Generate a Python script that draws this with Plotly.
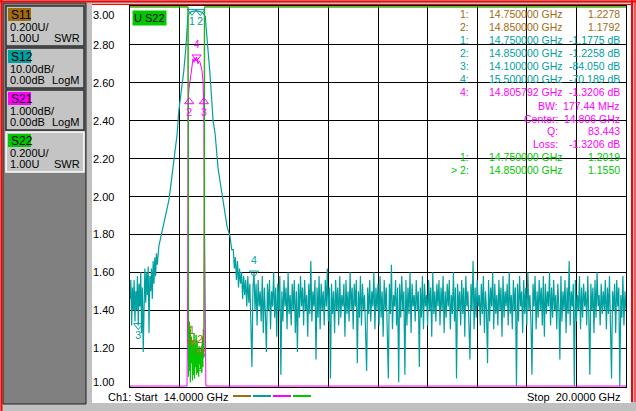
import numpy as np
import plotly.graph_objects as go

# ---- sweep / scale ----
START_GHZ = 14.0
STOP_GHZ = 20.0
X_GRID = [14.0, 14.6, 15.2, 15.8, 16.4, 17.0, 17.6, 18.2, 18.8, 19.4, 20.0]
Y_TICK_VALS = [3.0, 2.8, 2.6, 2.4, 2.2, 2.0, 1.8, 1.6, 1.4, 1.2, 1.0]
Y_TICK_TEXT = ["3.00", "2.80", "2.60", "2.40", "2.20", "2.00", "1.80", "1.60", "1.40", "1.20", "1.00"]

# ---- S12 (LogM, 10 dB/div, ref 0 dB at top) ----
S12_LEFT_START, S12_LEFT_STOP = 14.00, 14.34
S12_LEFT_DB = [-77, -72, -84, -74, -80, -72, -83, -75, -80, -71,
               -84.05, -73, -79, -70, -86, -74, -91, -72, -69, -78,
               -70, -76, -68.5, -86, -71, -75, -69, -77, -67, -73,
               -66, -71, -65, -68, -64]
S12_PASS_F = [14.35, 14.37, 14.40, 14.43, 14.47, 14.50, 14.52, 14.55, 14.57, 14.59,
              14.62, 14.65, 14.675, 14.69, 14.70, 14.72, 14.75, 14.78, 14.80, 14.82,
              14.85, 14.88, 14.91, 14.925, 14.94, 14.965, 14.99, 15.005, 15.03, 15.065,
              15.10, 15.125, 15.15, 15.175, 15.21, 15.23]
S12_PASS_DB = [-63, -61, -58, -55, -51, -46, -42.5, -38, -33.5, -27.5,
               -22.5, -17, -11, -6, -2.5, -1.5, -1.1775, -1.1, -1.0, -1.1,
               -1.2258, -1.5, -2.5, -6, -11, -17, -25, -30, -33.5, -42.5,
               -47.5, -51, -55, -58, -60.5, -64]
S12_RIGHT_START, S12_RIGHT_STOP = 15.25, 20.00
S12_RIGHT_DB = [
    -64, -69, -66, -72, -67, -74, -69, -73, -70, -77, -71, -76, -72, -79, -71, -78, -73, -82, -95, -74,
    -70.19, -80, -73, -84, -72, -79, -75, -83, -71, -86, -74, -81, -91, -73, -80, -72, -85, -75, -79, -70,
    -82, -74, -87, -73, -80, -71, -97, -75, -83, -72, -79, -74, -85, -70, -81, -76, -84, -73, -80, -72,
    -86, -75, -91, -73, -82, -71, -79, -74, -84, -72, -80, -76, -87, -73, -81, -67, -83, -75, -79, -72,
    -93, -74, -82, -71, -85, -73, -80, -75, -84, -72, -79, -69, -83, -74, -98, -73, -81, -75, -86, -72,
    -80, -74, -84, -71, -82, -76, -79, -73, -87, -72, -81, -75, -83, -70, -80, -74, -85, -73, -79, -72,
    -94, -75, -82, -71, -84, -73, -80, -76, -86, -96, -74, -81, -72, -83, -75, -79, -70, -85, -74, -80,
    -73, -84, -71, -82, -75, -87, -72, -80, -74, -83, -98, -73, -81, -68, -85, -76, -79, -72, -84, -74,
    -99, -73, -82, -71, -80, -75, -97, -72, -84, -74, -81, -70, -86, -73, -79, -76, -83, -72, -80, -75,
    -95, -74, -82, -71, -85, -73, -79, -76, -84, -72, -80, -74, -87, -70, -81, -75, -83, -73, -79, -72,
    -84, -74, -80, -71, -86, -75, -82, -73, -79, -72, -85, -76, -81, -70, -83, -74, -98, -73, -80, -75,
    -84, -72, -81, -74, -87, -71, -79, -75, -83, -93, -73, -80, -67, -85, -74, -82, -72, -79, -76, -84,
    -73, -81, -71, -86, -75, -80, -94, -72, -83, -74, -79, -70, -85, -73, -81, -76, -84, -72, -80, -74,
    -87, -71, -82, -75, -79, -73, -84, -70, -81, -76, -85, -72, -80, -74, -100, -73, -83, -71, -79, -75,
    -86, -72, -81, -74, -84, -70, -80, -76, -83, -97, -73, -79, -71, -85, -75, -82, -72, -80, -74, -84,
    -71, -87, -73, -81, -75, -79, -70, -84, -74, -82, -72, -80, -76, -85, -73, -79, -93, -71, -83, -75,
    -80, -72, -86, -74, -81, -67, -84, -75, -79, -73, -100, -72, -83, -76, -80, -71, -85, -74, -82, -73,
    -79, -75, -84, -71, -81, -97, -73, -80, -74, -86, -72, -82, -70, -79, -76, -84, -73, -81, -75, -80,
    -72, -85, -74, -81, -71, -83, -98, -75, -80, -73, -86, -72, -79, -74, -100, -76, -82, -71, -84, -75,
    -80]

# ---- S21 (LogM, 1 dB/div, ref 0 dB at top) ----
S21_F = [14.00, 14.30, 14.60, 14.690, 14.697, 14.702, 14.706, 14.714, 14.726, 14.738,
         14.750, 14.762, 14.774, 14.787, 14.798, 14.806, 14.811, 14.823, 14.835, 14.847,
         14.859, 14.871, 14.883, 14.889, 14.895, 14.903, 14.912, 14.918, 15.20, 17.00, 20.00]
S21_DB = [-84, -66, -32, -14, -8.0, -4.0, -2.4, -2.16, -1.95, -1.68,
          -1.42, -1.37, -1.46, -1.34, -1.42, -1.3206, -1.37, -1.50, -1.42, -1.46,
          -1.58, -1.68, -1.95, -2.34, -2.74, -6.0, -9.0, -14, -55, -76, -74]

# ---- S11 / S22 (SWR, 0.2 U/div, ref 1.00 U at bottom) ----
S11_F = [14.00, 14.701, 14.706, 14.712, 14.718, 14.724, 14.731, 14.737, 14.743, 14.750,
         14.756, 14.762, 14.768, 14.775, 14.781, 14.787, 14.793, 14.800, 14.806, 14.812,
         14.818, 14.825, 14.831, 14.837, 14.843, 14.850, 14.856, 14.862, 14.868, 14.875,
         14.881, 14.887, 14.893, 14.899, 20.00]
S11_SWR = [17.4, 3.6, 1.32, 1.15, 1.34, 1.12, 1.30, 1.16, 1.26, 1.2278,
           1.10, 1.24, 1.13, 1.20, 1.08, 1.18, 1.12, 1.22, 1.09, 1.17,
           1.07, 1.15, 1.10, 1.19, 1.13, 1.1792, 1.09, 1.21, 1.12, 1.26,
           1.15, 1.30, 1.20, 3.6, 16.8]
S22_F = [14.00, 14.703, 14.708, 14.713, 14.718, 14.724, 14.730, 14.736, 14.742, 14.750,
         14.756, 14.762, 14.768, 14.775, 14.781, 14.787, 14.793, 14.800, 14.806, 14.812,
         14.818, 14.825, 14.831, 14.837, 14.843, 14.850, 14.856, 14.862, 14.868, 14.875,
         14.881, 14.887, 14.893, 14.898, 14.903, 20.00]
S22_SWR = [18.2, 3.6, 1.05, 1.30, 1.08, 1.32, 1.02, 1.25, 1.12, 1.2019,
           1.03, 1.20, 1.06, 1.28, 1.04, 1.22, 1.10, 1.27, 1.06, 1.24,
           1.08, 1.18, 1.05, 1.21, 1.12, 1.1550, 1.09, 1.19, 1.07, 1.22,
           1.10, 1.26, 1.15, 1.30, 3.6, 17.9]

# ---- markers ----
S11_MK_F, S11_MK_VAL, S11_MK_LBL = [14.75, 14.85], [1.2278, 1.1792], ["1", "2"]
S12_MK_F = [14.75, 14.85, 14.10, 15.50]
S12_MK_DB = [-1.1775, -1.2258, -84.050, -70.189]
S12_MK_LBL = ["1", "2", "3", "4"]
S21_MK_F, S21_MK_DB, S21_MK_LBL = [14.717, 14.894, 14.805792], [-2.5, -2.5, -1.3206], ["2", "3", "4"]
S22_MK_F, S22_MK_VAL, S22_MK_LBL = [14.75, 14.85], [1.2019, 1.1550], ["1", "2"]

TABLE_IDX = ["1:", "2:", "1:", "2:", "3:", "4:", "4:", "", "", "", "", "1:", "> 2:"]
TABLE_KEY = ["14.750000 GHz", "14.850000 GHz", "14.750000 GHz", "14.850000 GHz",
             "14.100000 GHz", "15.500000 GHz", "14.805792 GHz", "BW:", "Center:", "Q:",
             "Loss:", "14.750000 GHz", "14.850000 GHz"]
TABLE_VAL = ["1.2278", "1.1792", "-1.1775 dB", "-1.2258 dB", "-84.050 dB", "-70.189 dB",
             "-1.3206 dB", "177.44 MHz", "14.806 GHz", "83.443", "-1.3206 dB", "1.2019", "1.1550"]
TABLE_TRACE = [0, 0, 1, 1, 1, 1, 2, 2, 2, 2, 2, 3, 3]

CHANNELS = ["S11", "S12", "S21", "S22"]
SCALES = ["0.200U/", "10.00dB/", "1.000dB/", "0.200U/"]
REFS = ["1.00U", "0.00dB", "0.00dB", "1.00U"]
FORMATS = ["SWR", "LogM", "LogM", "SWR"]
COLORS = ["#a06c10", "#00a0a0", "#ff00ff", "#00c800"]

FONT = "Liberation Sans"
FS = 10.5
GRID = "#000000"

# plot area in pixels
L, R, T, B = 130, 626, 6, 387


def px(x):
    return (x - L) / (R - L)


def py(y):
    return (B - y) / (B - T)


def logm(db, per_div):
    return np.clip(3.0 + np.asarray(db, dtype=float) / per_div * 0.2, 1.0, 3.0)


def swr(v):
    return np.clip(np.asarray(v, dtype=float), 1.0, 3.0)


s12_f = np.concatenate([np.linspace(S12_LEFT_START, S12_LEFT_STOP, len(S12_LEFT_DB)),
                        S12_PASS_F,
                        np.linspace(S12_RIGHT_START, S12_RIGHT_STOP, len(S12_RIGHT_DB))])
s12_db = np.concatenate([S12_LEFT_DB, S12_PASS_DB, S12_RIGHT_DB])

fig = go.Figure()
fig.add_trace(go.Scatter(x=S11_F, y=swr(S11_SWR), mode="lines", line=dict(color=COLORS[0], width=1)))
fig.add_trace(go.Scatter(x=s12_f, y=logm(s12_db, 10), mode="lines", line=dict(color=COLORS[1], width=1.2)))
fig.add_trace(go.Scatter(x=S21_F, y=logm(S21_DB, 1), mode="lines", line=dict(color=COLORS[2], width=1)))
fig.add_trace(go.Scatter(x=S22_F, y=swr(S22_SWR), mode="lines", line=dict(color=COLORS[3], width=1)))


def add_markers(f, vals, labels, color, symbols, positions):
    fig.add_trace(go.Scatter(
        x=f, y=vals, mode="markers+text", text=labels, textposition=positions,
        textfont=dict(family=FONT, size=FS, color=color), cliponaxis=False,
        marker=dict(symbol=symbols, size=8, color=color, line=dict(color=color, width=1))))


add_markers(S11_MK_F, swr(S11_MK_VAL), S11_MK_LBL, COLORS[0], "triangle-down-open", "top center")
add_markers(S12_MK_F, logm(S12_MK_DB, 10), S12_MK_LBL, COLORS[1], "triangle-down-open",
            ["bottom center", "bottom center", "bottom center", "top center"])
add_markers(S21_MK_F, logm(S21_MK_DB, 1), S21_MK_LBL, COLORS[2],
            ["triangle-up-open", "triangle-up-open", "triangle-down-open"],
            ["bottom center", "bottom center", "top center"])
add_markers(S22_MK_F, swr(S22_MK_VAL), S22_MK_LBL, COLORS[3], "triangle-down-open", "bottom center")

shapes = []
annotations = []


def text(x, y, s, anchor="left", color="black", size=FS, **kw):
    annotations.append(dict(xref="paper", yref="paper", x=px(x), y=py(y), text=s,
                            xanchor=anchor, yanchor="middle", showarrow=False,
                            font=dict(family=FONT, size=size, color=color), **kw))


# window background pieces
shapes.append(dict(type="rect", xref="paper", yref="paper", layer="below",
                   x0=px(92), x1=px(631), y0=py(403), y1=py(5), fillcolor="white", line_width=0))
shapes.append(dict(type="rect", xref="paper", yref="paper", layer="below",
                   x0=px(3), x1=px(86), y0=py(404), y1=py(3), fillcolor="#808080",
                   line=dict(color="#202020", width=1)))
# red frame
for x0, y0, x1, y1, w in [(1.5, 0, 1.5, 411, 2), (0, 1.5, 636, 1.5, 2), (632, 0, 632, 402, 2),
                          (635, 0, 635, 402, 1), (92, 4.5, 632, 4.5, 1)]:
    shapes.append(dict(type="line", xref="paper", yref="paper", x0=px(x0), x1=px(x1),
                       y0=py(y0), y1=py(y1), line=dict(color="#ff0000", width=w)))

# channel buttons
for i, ch in enumerate(CHANNELS):
    top = 6 + 42 * i
    active = i == 3
    shapes.append(dict(type="rect", xref="paper", yref="paper", layer="below",
                       x0=px(6), x1=px(84), y0=py(top + 40), y1=py(top),
                       fillcolor="#c4c4c4",
                       line=dict(color="white" if active else "#303030", width=1.5)))
    shapes.append(dict(type="rect", xref="paper", yref="paper", layer="below",
                       x0=px(8), x1=px(31), y0=py(top + 15), y1=py(top + 2),
                       fillcolor=COLORS[i], line_width=0))
    text(9, top + 9, ch, size=12)
    text(8, top + 21, SCALES[i], size=11)
    text(8, top + 32, REFS[i], size=11)
    text(82, top + 32, FORMATS[i], anchor="right", size=11)

# y labels
for v, t in zip(Y_TICK_VALS, Y_TICK_TEXT):
    shift = -8 if v == 3.0 else (4 if v == 1.0 else 0)
    annotations.append(dict(xref="paper", yref="y", x=px(116), y=v, yshift=shift, text=t,
                            xanchor="right", yanchor="middle", showarrow=False,
                            font=dict(family=FONT, size=11, color="black")))

# active trace label
annotations.append(dict(xref="paper", yref="paper", x=px(132), y=py(10), text="U S22",
                        xanchor="left", yanchor="top", showarrow=False, bgcolor=COLORS[3],
                        borderpad=1, font=dict(family=FONT, size=11, color="black")))

# marker table
ROW_Y = [14, 27, 40, 53, 66, 79, 92, 106, 119, 131, 144, 157, 170]
for idx, key, val, tr, yy in zip(TABLE_IDX, TABLE_KEY, TABLE_VAL, TABLE_TRACE, ROW_Y):
    c = COLORS[tr]
    if idx:
        text(471, yy, idx, anchor="right", color=c)
        text(487, yy, key, color=c)
    else:
        text(560, yy, key, anchor="right", color=c)
    text(622, yy, val, anchor="right", color=c)

# footer
text(106, 397, "Ch1: Start  14.0000 GHz", size=11)
text(623, 397, "Stop  20.0000 GHz", anchor="right", size=11)
for i, c in enumerate(COLORS):
    x0 = 233 + 20 * i
    shapes.append(dict(type="line", xref="paper", yref="paper", x0=px(x0), x1=px(x0 + 18),
                       y0=py(396), y1=py(396), line=dict(color=c, width=2)))

# reference arrows
shapes.append(dict(type="path", xref="x", yref="y", xsizemode="pixel", ysizemode="pixel",
                   xanchor=START_GHZ, yanchor=1.0, path="M -5 5 L 1 0 L -5 -5 Z",
                   fillcolor=COLORS[3], line_width=0))
shapes.append(dict(type="path", xref="x", yref="y", xsizemode="pixel", ysizemode="pixel",
                   xanchor=STOP_GHZ, yanchor=1.0, path="M 7 5 L 1 0 L 7 -5 Z",
                   fillcolor=COLORS[3], line_width=0))
shapes.append(dict(type="path", xref="x", yref="y", xsizemode="pixel", ysizemode="pixel",
                   xanchor=STOP_GHZ, yanchor=3.0, path="M -1 3 L 5 3 L 5 -4 Z",
                   fillcolor=COLORS[2], line_width=0))

fig.update_layout(
    width=636, height=411,
    margin=dict(l=L, r=636 - R, t=T, b=411 - B, pad=0),
    paper_bgcolor="#c0c0c0", plot_bgcolor="rgba(0,0,0,0)",
    showlegend=False, shapes=shapes, annotations=annotations,
    xaxis=dict(range=[START_GHZ, STOP_GHZ], tickvals=X_GRID, showticklabels=False, ticks="",
               showgrid=True, gridcolor=GRID, gridwidth=1, zeroline=False,
               showline=True, linecolor="black", linewidth=1, mirror=True, fixedrange=True),
    yaxis=dict(range=[0.995, 3.005], tickvals=Y_TICK_VALS, showticklabels=False, ticks="",
               showgrid=True, gridcolor=GRID, gridwidth=1, zeroline=False,
               showline=True, linecolor="black", linewidth=1, mirror=True, fixedrange=True),
)

fig.write_html("out.html", config={"displayModeBar": False},
               post_script="document.body.style.margin='0';")
